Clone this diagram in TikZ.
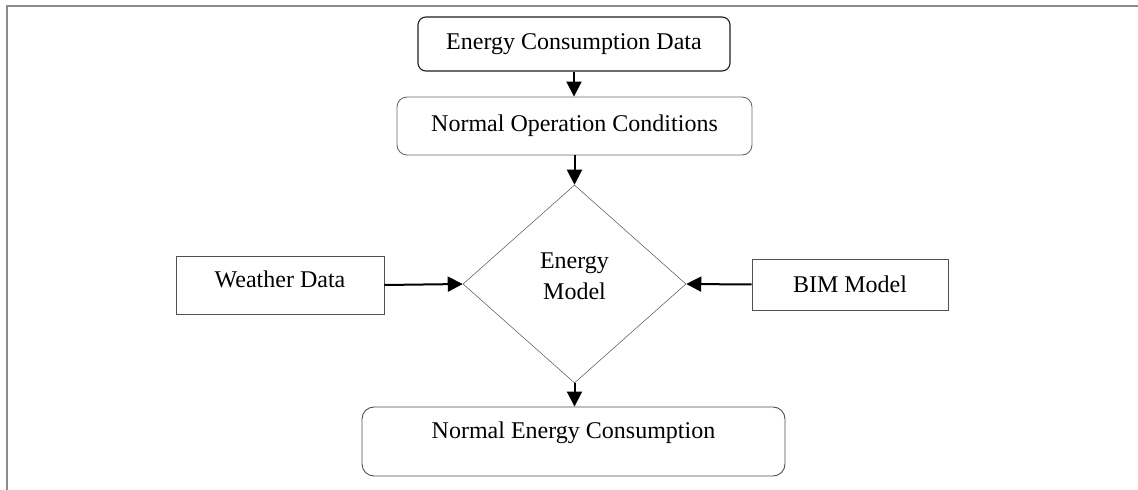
\documentclass[tikz,border=0pt]{standalone}
\usepackage{fontspec}
\setmainfont{Liberation Serif}
\usetikzlibrary{shapes.geometric,arrows.meta}
\definecolor{framegray}{HTML}{8C8C8C}
\definecolor{edgedark}{HTML}{1E1E1E}
\definecolor{edgemid}{HTML}{505050}
\definecolor{edgelight}{HTML}{6A6A6A}
\begin{document}
\begin{tikzpicture}[x=1pt,y=1pt,
  every node/.style={font=\fontsize{24}{30}\selectfont, inner sep=0pt},
  roundbox/.style={draw, rounded corners=9pt, line width=0.9pt},
  plainbox/.style={draw=edgemid, line width=0.8pt},
  decision/.style={diamond, draw=edgemid, line width=0.5pt, align=center},
  flow/.style={line width=2pt, -{Triangle[width=15pt,length=15pt]}}
]
\useasboundingbox (0,0) rectangle (1138,490);
% page frame (top and left rules)
\draw[framegray, line width=2pt] (7,0) -- (7,484) -- (1138,484);

% process boxes
\node[roundbox, draw=edgedark, line width=1.1pt, rounded corners=8pt,
      minimum width=312pt, minimum height=54pt] (ecd) at (574,446)
      {Energy Consumption Data};
\node[roundbox, draw=edgelight, rounded corners=10pt,
      minimum width=355pt, minimum height=58pt] (noc) at (574.5,364)
      {Normal Operation Conditions\hspace{16pt}};
\node[decision, minimum width=223pt, minimum height=198pt] (em) at (574.5,206) {};
\node[align=center] (emtext) at (574.5,214) {Energy\\[1pt]Model};
\node[roundbox, draw=edgemid, rounded corners=12pt,
      minimum width=423pt, minimum height=69pt,
      text height=17pt, text depth=22pt] (nec) at (573.5,48.5)
      {Normal Energy Consumption};
\node[plainbox, minimum width=208pt, minimum height=58pt,
      text height=17pt, text depth=11pt] (wd) at (280,205)
      {Weather Data};
\node[plainbox, minimum width=196pt, minimum height=51pt] (bim) at (850,205.5)
      {BIM Model};

% connectors
\draw[flow] (ecd.south) -- (ecd.south |- noc.north);
\draw[flow] (noc.south) -- (em.north);
\draw[flow] (wd.east) -- (em.west);
\draw[flow] (bim.west) -- (em.east);
\draw[flow] (em.south) -- (em.south |- nec.north);
\end{tikzpicture}
\end{document}
